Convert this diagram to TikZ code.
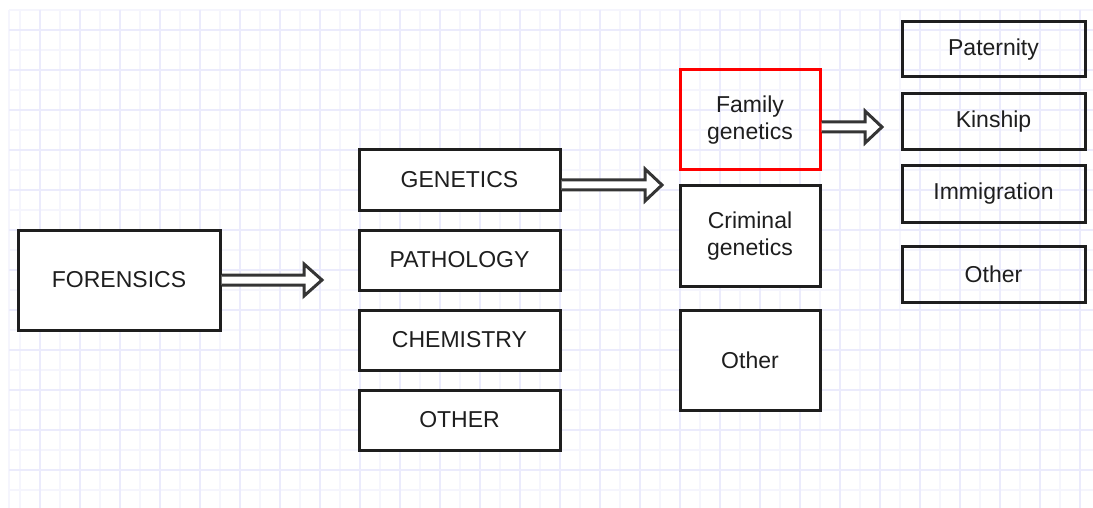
\documentclass[tikz,border=0pt]{standalone}
\usepackage{fontspec}
\setmainfont{Liberation Sans}
\usetikzlibrary{calc}

\definecolor{gridminor}{HTML}{F5F5FD}
\definecolor{gridmajor}{HTML}{EBEBFC}
\definecolor{inkgray}{HTML}{1E1E1E}

\tikzset{
  box/.style={draw=inkgray, line width=3pt, rectangle, inner sep=0pt,
    align=center, text=inkgray, font=\fontsize{23}{27}\selectfont},
  solidbox/.style={box, fill=white},
  redbox/.style={box, draw=red},
  arrowline/.style={draw=inkgray!90, line width=3pt, fill=white, line join=miter},
}

% hollow block arrow from a start point to a tip (same height)
\newcommand{\hollowarrow}[3]{%
  \draw[arrowline] ($(#1)+(0,-5)$) -- ($(#2)+(-#3,-5)$) -- ($(#2)+(-#3,-16)$)
    -- (#2) -- ($(#2)+(-#3,16)$) -- ($(#2)+(-#3,5)$) -- ($(#1)+(0,5)$);}

\begin{document}
\begin{tikzpicture}[x=1pt, y=-1pt]
  \useasboundingbox (0,0) rectangle (1093,508);
  \fill[white] (0,0) rectangle (1093,508);

  % squared paper background
  \foreach \x in {20,60,...,1060}
    \draw[gridminor, line width=1.6pt] (\x,10) -- (\x,508);
  \foreach \y in {10,50,...,490}
    \draw[gridminor, line width=1.6pt] (9,\y) -- (1093,\y);
  \draw[gridminor, line width=1.6pt] (9,10) -- (9,508);
  \foreach \x in {40,80,...,1080}
    \draw[gridmajor, line width=1.6pt] (\x,10) -- (\x,508);
  \foreach \y in {30,70,...,470}
    \draw[gridmajor, line width=1.6pt] (9,\y) -- (1093,\y);

  % first level
  \node[solidbox, minimum width=202pt, minimum height=100pt] (forensics) at (119,280) {FORENSICS};

  % second level
  \node[solidbox, minimum width=201pt, minimum height=60pt] (genetics)  at (459.5,180) {GENETICS};
  \node[solidbox, minimum width=201pt, minimum height=60pt] (pathology) at (459.5,260) {PATHOLOGY};
  \node[solidbox, minimum width=201pt, minimum height=60pt] (chemistry) at (459.5,340) {CHEMISTRY};
  \node[solidbox, minimum width=201pt, minimum height=60pt] (other1)    at (459.5,420) {OTHER};

  % third level
  \node[redbox,   minimum width=140pt, minimum height=100pt] (family)   at (750,120) {Family\\genetics};
  \node[solidbox, minimum width=140pt, minimum height=100pt] (criminal) at (750,236) {Criminal\\genetics};
  \node[solidbox, minimum width=140pt, minimum height=100pt] (other2)   at (750,360) {Other};

  % fourth level
  \node[box, minimum width=183pt, minimum height=55pt] (paternity)   at (993.5,49.5) {Paternity};
  \node[box, minimum width=183pt, minimum height=56pt] (kinship)     at (993.5,122) {Kinship};
  \node[box, minimum width=183pt, minimum height=56pt] (immigration) at (993.5,194) {Immigration};
  \node[box, minimum width=183pt, minimum height=56pt] (other3)      at (993.5,274) {Other};

  % connectors
  \coordinate (tip1) at (322,280);
  \coordinate (tip2) at (662,185);
  \coordinate (tip3) at (882,127);
  \coordinate (start1) at (forensics.east |- tip1);
  \coordinate (start2) at (genetics.east |- tip2);
  \coordinate (start3) at (family.east |- tip3);
  \hollowarrow{start1}{tip1}{18}
  \hollowarrow{start2}{tip2}{17}
  \hollowarrow{start3}{tip3}{17}
\end{tikzpicture}
\end{document}
